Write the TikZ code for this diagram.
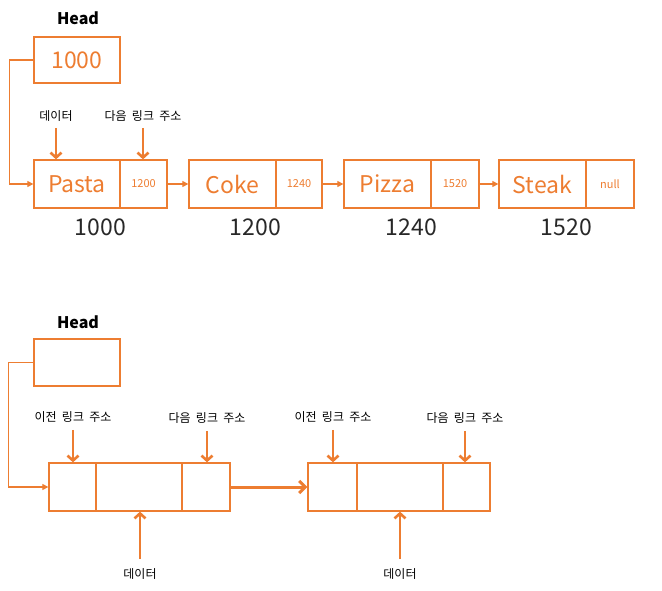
\documentclass[tikz,border=0pt]{standalone}
\usepackage{fontspec}
\setmainfont{Noto Sans CJK KR}[WordSpace=2]
\usepackage{xcolor}
\usetikzlibrary{arrows.meta}

\definecolor{listorange}{RGB}{237,125,49}
\definecolor{addrgray}{RGB}{40,40,40}

\newcommand{\boxfont}{\fontsize{23}{27}\selectfont}
\newcommand{\linkfont}{\fontsize{11}{13}\selectfont}
\newcommand{\addrfont}{\fontsize{23}{27}\selectfont}
\newcommand{\headfont}{\fontsize{16}{19}\selectfont\bfseries}
\newcommand{\krfont}{\fontsize{12}{14}\selectfont}

\begin{document}
\begin{tikzpicture}[x=1pt,y=-1pt,
    cell/.style={draw=listorange, line width=1.3pt, minimum height=48, inner sep=0pt, text=listorange},
    thinarrow/.style={draw=listorange, line width=1.2pt, -{Triangle[length=6pt,width=6pt]}},
    lblarrow/.style={draw=listorange, line width=2.6pt, -{Straight Barb[length=5pt,width=11pt]}},
    bigarrow/.style={draw=listorange, line width=3pt, -{Straight Barb[length=6pt,width=12pt]}}]
    \useasboundingbox (0,0) rectangle (662,591);

    % Singly linked list: head
    \node[font=\headfont] (headlbl) at (78,18) {Head};
    \node[cell, minimum width=86, minimum height=46, font=\boxfont] (head) at (77,60) {1000};

    % Singly linked list: nodes
    \node[cell, minimum width=86, font=\boxfont] (pasta) at (77,184) {Pasta};
    \node[cell, minimum width=47, font=\linkfont] (pastanext) at (143.5,184) {1200};
    \node[cell, minimum width=87, font=\boxfont] (coke) at (232.5,184) {Coke};
    \node[cell, minimum width=46, font=\linkfont] (cokenext) at (299,184) {1240};
    \node[cell, minimum width=87, font=\boxfont] (pizza) at (387.5,184) {Pizza};
    \node[cell, minimum width=48, font=\linkfont] (pizzanext) at (455,184) {1520};
    \node[cell, minimum width=87, font=\boxfont] (steak) at (542.5,184) {Steak};
    \node[cell, minimum width=48, font=\linkfont] (steaknext) at (610,184) {null};

    % Addresses
    \node[font=\addrfont, text=addrgray] (addr1) at (100.5,227) {1000};
    \node[font=\addrfont, text=addrgray] (addr2) at (255.5,227) {1200};
    \node[font=\addrfont, text=addrgray] (addr3) at (411.5,227) {1240};
    \node[font=\addrfont, text=addrgray] (addr4) at (566.5,227) {1520};

    % Links
    \draw[thinarrow] (head.west) -- ++(-24,0) |- (pasta.west);
    \draw[thinarrow] (pastanext.east) -- (coke.west);
    \draw[thinarrow] (cokenext.east) -- (pizza.west);
    \draw[thinarrow] (pizzanext.east) -- (steak.west);

    % Field labels
    \node[font=\krfont] (datalbl) at (56,116) {데이터};
    \node[font=\krfont] (nextlbl) at (143,116) {다음 링크 주소};
    \draw[lblarrow] ([yshift=-3pt]datalbl.south) -- (datalbl.south |- pasta.north);
    \draw[lblarrow] ([yshift=-3pt]nextlbl.south) -- (nextlbl.south |- pastanext.north);

    % Doubly linked list: head
    \node[font=\headfont] (dheadlbl) at (78,322) {Head};
    \node[cell, minimum width=86, minimum height=47] (dhead) at (77,362.5) {};

    % Doubly linked list: nodes
    \node[cell, minimum width=47] (aprev) at (72.5,487) {};
    \node[cell, minimum width=86] (adata) at (139,487) {};
    \node[cell, minimum width=48] (anext) at (206,487) {};
    \node[cell, minimum width=49] (bprev) at (332.5,487) {};
    \node[cell, minimum width=86] (bdata) at (400,487) {};
    \node[cell, minimum width=47] (bnext) at (466.5,487) {};

    % Links
    \draw[thinarrow] (dhead.west) -- ++(-25,0) |- (aprev.west);
    \draw[bigarrow] (anext.east) -- (bprev.west);

    % Field labels
    \node[font=\krfont] (aprevlbl) at (73,417) {이전 링크 주소};
    \node[font=\krfont] (anextlbl) at (207,418) {다음 링크 주소};
    \node[font=\krfont] (adatalbl) at (140,574) {데이터};
    \node[font=\krfont] (bprevlbl) at (333,417) {이전 링크 주소};
    \node[font=\krfont] (bnextlbl) at (465,418) {다음 링크 주소};
    \node[font=\krfont] (bdatalbl) at (400,574) {데이터};
    \draw[lblarrow] ([yshift=-4pt]aprevlbl.south) -- (aprevlbl.south |- aprev.north);
    \draw[lblarrow] ([yshift=-4pt]anextlbl.south) -- (anextlbl.south |- anext.north);
    \draw[lblarrow] ([yshift=6pt]adatalbl.north) -- (adatalbl.north |- adata.south);
    \draw[lblarrow] ([yshift=-4pt]bprevlbl.south) -- (bprevlbl.south |- bprev.north);
    \draw[lblarrow] ([yshift=-4pt]bnextlbl.south) -- (bnextlbl.south |- bnext.north);
    \draw[lblarrow] ([yshift=6pt]bdatalbl.north) -- (bdatalbl.north |- bdata.south);
\end{tikzpicture}
\end{document}
